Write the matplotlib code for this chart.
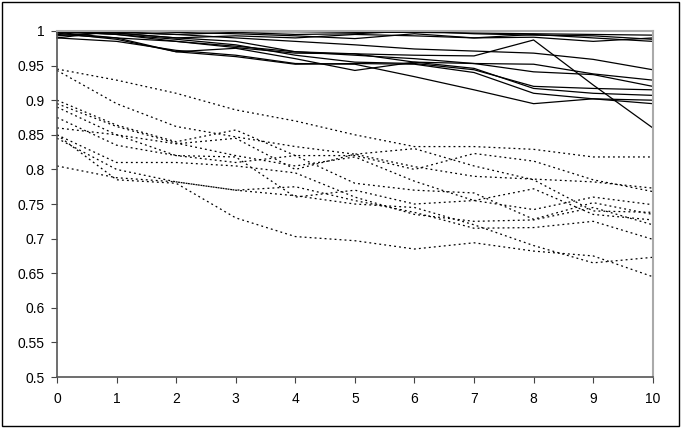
import matplotlib
matplotlib.use("Agg")
import matplotlib.pyplot as plt
from matplotlib.patches import Rectangle

plt.rcParams['font.family'] = ['Liberation Sans', 'DejaVu Sans']

x = list(range(11))

# solid series (upper group)
solid = [
    [1.000, 1.000, 1.000, 0.999, 0.999, 0.998, 0.998, 0.997, 0.996, 0.995, 0.994],
    [0.990, 1.000, 0.998, 0.996, 0.993, 0.989, 0.996, 0.990, 0.991, 0.985, 0.990],
    [0.993, 0.999, 0.995, 0.998, 0.995, 0.996, 1.000, 0.996, 0.994, 0.993, 0.988],
    [0.998, 0.997, 0.990, 0.993, 0.990, 0.995, 0.993, 0.990, 0.995, 0.990, 0.985],
    [1.000, 0.998, 0.995, 0.990, 0.985, 0.980, 0.974, 0.971, 0.968, 0.959, 0.944],
    [1.000, 0.995, 0.985, 0.978, 0.970, 0.967, 0.965, 0.964, 0.987, 0.922, 0.860],
    [0.999, 0.997, 0.990, 0.985, 0.970, 0.965, 0.960, 0.953, 0.952, 0.938, 0.929],
    [0.998, 0.990, 0.985, 0.976, 0.968, 0.967, 0.955, 0.953, 0.941, 0.937, 0.920],
    [0.999, 0.995, 0.988, 0.980, 0.965, 0.955, 0.953, 0.944, 0.920, 0.917, 0.915],
    [0.995, 0.990, 0.970, 0.975, 0.960, 0.943, 0.955, 0.946, 0.917, 0.910, 0.907],
    [0.997, 0.988, 0.970, 0.963, 0.952, 0.953, 0.952, 0.940, 0.910, 0.902, 0.900],
    [0.990, 0.985, 0.972, 0.965, 0.953, 0.952, 0.934, 0.915, 0.895, 0.902, 0.895],
]

# dotted series (lower group)
dotted = [
    [0.945, 0.929, 0.910, 0.886, 0.870, 0.850, 0.833, 0.833, 0.829, 0.818, 0.818],
    [0.943, 0.895, 0.862, 0.847, 0.833, 0.822, 0.804, 0.790, 0.786, 0.782, 0.773],
    [0.900, 0.864, 0.840, 0.857, 0.820, 0.820, 0.800, 0.823, 0.812, 0.785, 0.768],
    [0.895, 0.862, 0.838, 0.820, 0.805, 0.818, 0.783, 0.755, 0.742, 0.760, 0.749],
    [0.890, 0.850, 0.837, 0.845, 0.800, 0.822, 0.830, 0.805, 0.785, 0.740, 0.738],
    [0.875, 0.835, 0.820, 0.810, 0.820, 0.780, 0.770, 0.766, 0.728, 0.752, 0.735],
    [0.860, 0.850, 0.820, 0.818, 0.760, 0.770, 0.750, 0.755, 0.772, 0.735, 0.727],
    [0.850, 0.810, 0.810, 0.805, 0.795, 0.760, 0.735, 0.725, 0.727, 0.745, 0.720],
    [0.845, 0.800, 0.782, 0.770, 0.775, 0.755, 0.738, 0.715, 0.716, 0.725, 0.699],
    [0.805, 0.788, 0.782, 0.770, 0.762, 0.750, 0.745, 0.720, 0.690, 0.665, 0.673],
    [0.850, 0.785, 0.780, 0.730, 0.703, 0.697, 0.685, 0.694, 0.682, 0.675, 0.645],
]

yticks = [0.5, 0.55, 0.6, 0.65, 0.7, 0.75, 0.8, 0.85, 0.9, 0.95, 1.0]
ylabels = ['0.5', '0.55', '0.6', '0.65', '0.7', '0.75', '0.8', '0.85', '0.9', '0.95', '1']

fig = plt.figure(figsize=(6.82, 4.28), dpi=100)
ax = fig.add_axes([0.0836, 0.119, 0.8735, 0.8086])

for s in solid:
    ax.plot(x, s, color='black', lw=0.9, clip_on=False)
for d in dotted:
    ax.plot(x, d, color='black', lw=0.9, linestyle=(0, (1.5, 2.5)), clip_on=False)

ax.set_xlim(0, 10)
ax.set_ylim(0.5, 1.0)
ax.set_xticks(x)
ax.set_yticks(yticks)
ax.set_yticklabels(ylabels)
ax.tick_params(labelsize=10, length=4, width=0.8, color='#444444', direction='out')
ax.tick_params(axis='x', pad=7)
ax.tick_params(axis='y', pad=5)

for side in ['left', 'bottom']:
    ax.spines[side].set_color('#555555')
    ax.spines[side].set_linewidth(1.2)
for side in ['top', 'right']:
    ax.spines[side].set_color('#aaaaaa')
    ax.spines[side].set_linewidth(1.5)

# outer border of the chart
fig.patches.append(Rectangle((0.003, 0.004), 0.993, 0.991, transform=fig.transFigure,
                             fill=False, edgecolor='black', lw=1.0))

fig.savefig('out.png', dpi=100)
